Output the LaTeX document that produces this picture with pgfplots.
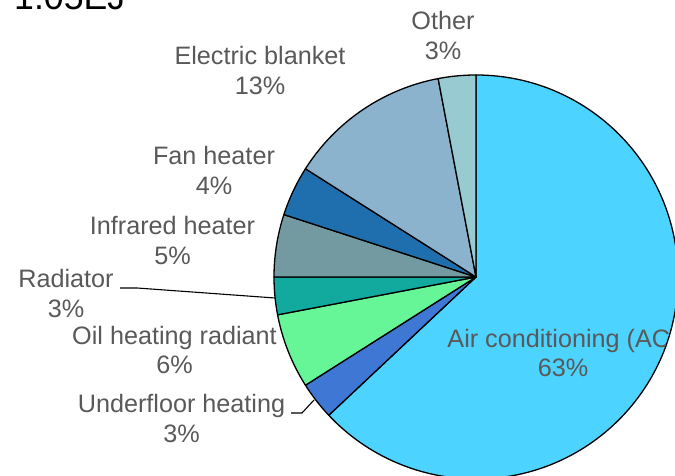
\documentclass[border=0pt]{standalone}
\usepackage{pgfplots}
\pgfplotsset{compat=1.18}
\usepackage{pgfplotstable}
\usepackage{fontspec}
\setmainfont{Liberation Sans}

\definecolor{cAC}{HTML}{4CD3FF}
\definecolor{cUF}{HTML}{3F77D4}
\definecolor{cOil}{HTML}{66F597}
\definecolor{cRad}{HTML}{12AA9F}
\definecolor{cIR}{HTML}{7399A1}
\definecolor{cFan}{HTML}{1F6FAF}
\definecolor{cEB}{HTML}{8BB3CD}
\definecolor{cOth}{HTML}{98CAD1}
\definecolor{lbl}{HTML}{595959}

\pgfplotstableread{
pct col
63 cAC
3 cUF
6 cOil
3 cRad
5 cIR
4 cFan
13 cEB
3 cOth
}\piedata

\begin{document}
\begin{tikzpicture}
\useasboundingbox (0,0) rectangle (675pt,476pt);
\begin{axis}[hide axis, scale only axis, x=1pt, y=1pt,
  xmin=-476, xmax=199, ymin=-199, ymax=277, clip=false,
  anchor=south west, at={(0,0)}]
\pgfmathsetmacro\curang{90}
\pgfplotsforeachungrouped \i in {0,...,7}{%
  \pgfplotstablegetelem{\i}{pct}\of\piedata
  \pgfmathsetmacro\endang{\curang-3.6*\pgfplotsretval}%
  \pgfplotstablegetelem{\i}{col}\of\piedata
  \edef\slicecol{\pgfplotsretval}%
  \edef\temp{\noexpand\filldraw[fill=\slicecol, draw=black, line width=1.3pt, line join=round]
    (axis cs:0,0) -- ++(\curang:202pt) arc[start angle=\curang, end angle=\endang, radius=202pt] -- cycle;}%
  \temp
  \global\let\curang\endang
}
\tikzset{lab/.style={text=lbl, anchor=base, inner sep=0pt, font=\fontsize{25.2}{30}\selectfont}}
\node[lab] at (axis cs:-33,247.5) {Other};
\node[lab] at (axis cs:-33,217.5) {3\%};
\node[lab] at (axis cs:-216,212) {Electric blanket};
\node[lab] at (axis cs:-216,182) {13\%};
\node[lab] at (axis cs:-262,112) {Fan heater};
\node[lab] at (axis cs:-262,82) {4\%};
\node[lab] at (axis cs:-303.5,42) {Infrared heater};
\node[lab] at (axis cs:-303.5,12) {5\%};
\node[lab] at (axis cs:-410,-11) {Radiator};
\node[lab] at (axis cs:-410,-41) {3\%};
\node[lab] at (axis cs:-301.5,-68) {Oil heating radiant};
\node[lab] at (axis cs:-301.5,-97) {6\%};
\node[lab] at (axis cs:-294.5,-136) {Underfloor heating};
\node[lab] at (axis cs:-294.5,-166) {3\%};
\begin{scope}
\clip (axis cs:0,0) circle[radius=201pt];
\node[lab] at (axis cs:87,-71) {Air conditioning (AC)};
\end{scope}
\node[lab] at (axis cs:87,-100) {63\%};
\draw[black, line width=1.1pt] (axis cs:-356,-11) -- (axis cs:-339,-11) -- (axis cs:-201,-21);
\draw[black, line width=1.1pt] (axis cs:-185,-136) -- (axis cs:-174,-136) -- (axis cs:-162,-123);
\node[anchor=base west, inner sep=0pt, text=black, font=\fontsize{35.7}{40}\selectfont] at (axis cs:-462,267) {1.05EJ};
\end{axis}
\end{tikzpicture}
\end{document}
